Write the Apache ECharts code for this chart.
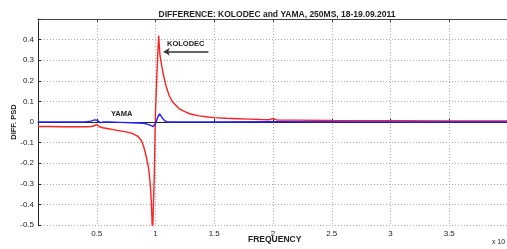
<!DOCTYPE html>
<html>
<head>
<meta charset="utf-8">
<script src="https://cdn.jsdelivr.net/npm/echarts@6/dist/echarts.min.js"></script>
<style>
  html, body { margin: 0; padding: 0; background: #fff; overflow: hidden; }
  #chart { width: 511px; height: 249px; }
</style>
</head>
<body>
<div id="chart"></div>
<script>
// KOLODEC curve (red)
var kolodecFreq = [0.0, 0.1, 0.2, 0.3, 0.4, 0.45, 0.48, 0.5, 0.52, 0.55, 0.6, 0.65, 0.7, 0.75, 0.8, 0.85, 0.88,
    0.9, 0.92, 0.94, 0.95, 0.96, 0.967, 0.975, 0.98, 0.99, 1.0, 1.01, 1.02, 1.027, 1.037, 1.045, 1.06, 1.075,
    1.09, 1.115, 1.145, 1.2, 1.25, 1.29, 1.37, 1.45, 1.5, 1.6, 1.7, 1.8, 1.9, 1.97, 2.0, 2.03, 2.2, 2.5, 3.0, 3.5, 4.0];
var kolodecDiff = [-0.022, -0.022, -0.023, -0.023, -0.023, -0.022, -0.018, -0.012, -0.022, -0.028, -0.033, -0.038, -0.043, -0.048, -0.055, -0.07, -0.09,
    -0.12, -0.165, -0.22, -0.27, -0.34, -0.42, -0.55, -0.55, -0.25, 0.05, 0.2, 0.34, 0.42, 0.33, 0.3, 0.25, 0.21,
    0.175, 0.13, 0.097, 0.065, 0.05, 0.04, 0.03, 0.024, 0.021, 0.018, 0.016, 0.014, 0.012, 0.011, 0.018, 0.01, 0.009, 0.007, 0.006, 0.005, 0.005];

// YAMA curve (blue)
var yamaFreq = [0.0, 0.4, 0.45, 0.48, 0.5, 0.53, 0.56, 0.6, 0.7, 0.8, 0.9, 0.95, 0.98, 1.0, 1.02, 1.035, 1.06, 1.08, 1.1, 1.5, 2.0, 3.0, 4.0];
var yamaDiff = [0.0, 0.0, 0.004, 0.01, 0.009, -0.003, 0.0, 0.0, -0.002, -0.004, -0.006, -0.014, -0.022, -0.008, 0.025, 0.04, 0.018, 0.005, 0.0, 0.0, 0.002, 0.0, 0.0];

var freqTicks = [0.5, 1, 1.5, 2, 2.5, 3, 3.5];

function pairs(xs, ys) {
    let out = [];
    for (let i = 0; i < xs.length; i++) out.push([xs[i], ys[i]]);
    return out;
}

var font = 'Liberation Sans';
var chart = echarts.init(document.getElementById('chart'));
chart.setOption({
    animation: false,
    title: {
        text: 'DIFFERENCE: KOLODEC and YAMA, 250MS, 18-19.09.2011',
        left: 272,
        textAlign: 'center',
        top: 5,
        textStyle: { fontFamily: font, fontSize: 8.5, fontWeight: 'bold', color: '#222' }
    },
    // plot runs past the right edge of the 507px window, as in the original
    grid: { left: 38, right: 0, top: 19, bottom: 24 },
    xAxis: [{
        type: 'value',
        min: 0,
        max: 4,
        interval: 0.5,
        axisLine: { lineStyle: { color: '#222', width: 1 } },
        axisTick: { inside: true, length: 3, lineStyle: { color: '#222' } },
        axisLabel: {
            fontFamily: font, fontSize: 8, color: '#222', margin: 5,
            formatter: function (v) { return freqTicks.indexOf(v) >= 0 ? String(v) : ''; }
        },
        splitLine: { show: true, lineStyle: { color: '#aaa', type: [1, 2], width: 1 } }
    }, {
        type: 'value',
        position: 'top',
        min: 0,
        max: 4,
        interval: 0.5,
        axisLine: { show: true, lineStyle: { color: '#444', width: 1 } },
        axisTick: { inside: true, length: 3, lineStyle: { color: '#444' } },
        axisLabel: { show: false },
        splitLine: { show: false }
    }],
    yAxis: {
        type: 'value',
        min: -0.5,
        max: 0.5,
        interval: 0.1,
        axisLine: { show: true, lineStyle: { color: '#222', width: 1 } },
        axisTick: { show: true, inside: true, length: 3, lineStyle: { color: '#222' } },
        axisLabel: {
            fontFamily: font, fontSize: 8, color: '#222', margin: 4,
            formatter: function (v) {
                let r = Math.round(v * 10) / 10;
                if (r >= 0.5) return '';
                return String(r);
            }
        },
        splitLine: { show: true, lineStyle: { color: '#aaa', type: [1, 2], width: 1 } }
    },
    series: [{
        name: 'YAMA',
        type: 'line',
        data: pairs(yamaFreq, yamaDiff),
        showSymbol: false,
        lineStyle: { color: '#2020ff', width: 1.4 },
        z: 3
    }, {
        name: 'KOLODEC',
        type: 'line',
        data: pairs(kolodecFreq, kolodecDiff),
        showSymbol: false,
        lineStyle: { color: '#ff2020', width: 1.4 },
        z: 2,
        markLine: {
            silent: true,
            symbol: ['none', 'arrow'],
            symbolSize: [6, 6],
            label: { show: false },
            lineStyle: { color: '#333', width: 1.5, type: 'solid' },
            data: [[{ coord: [1.45, 0.341] }, { coord: [1.07, 0.341] }]]
        }
    }],
    graphic: [
        { type: 'text', left: 167, top: 40, style: { text: 'KOLODEC', font: 'bold 7.5px "Liberation Sans"', fill: '#222' } },
        { type: 'text', left: 111, top: 110, style: { text: 'YAMA', font: 'bold 7.5px "Liberation Sans"', fill: '#222' } },
        { type: 'text', left: 248, top: 235, style: { text: 'FREQUENCY', font: 'bold 8.5px "Liberation Sans"', fill: '#222' } },
        { type: 'text', left: 492, top: 239, style: { text: 'x 10', font: '7px "Liberation Sans"', fill: '#222' } },
        { type: 'text', x: 14, y: 122, rotation: Math.PI / 2,
          style: { text: 'DIFF. PSD', font: 'bold 7.5px "Liberation Sans"', fill: '#222', align: 'center', verticalAlign: 'middle' } }
    ]
});
</script>
</body>
</html>
